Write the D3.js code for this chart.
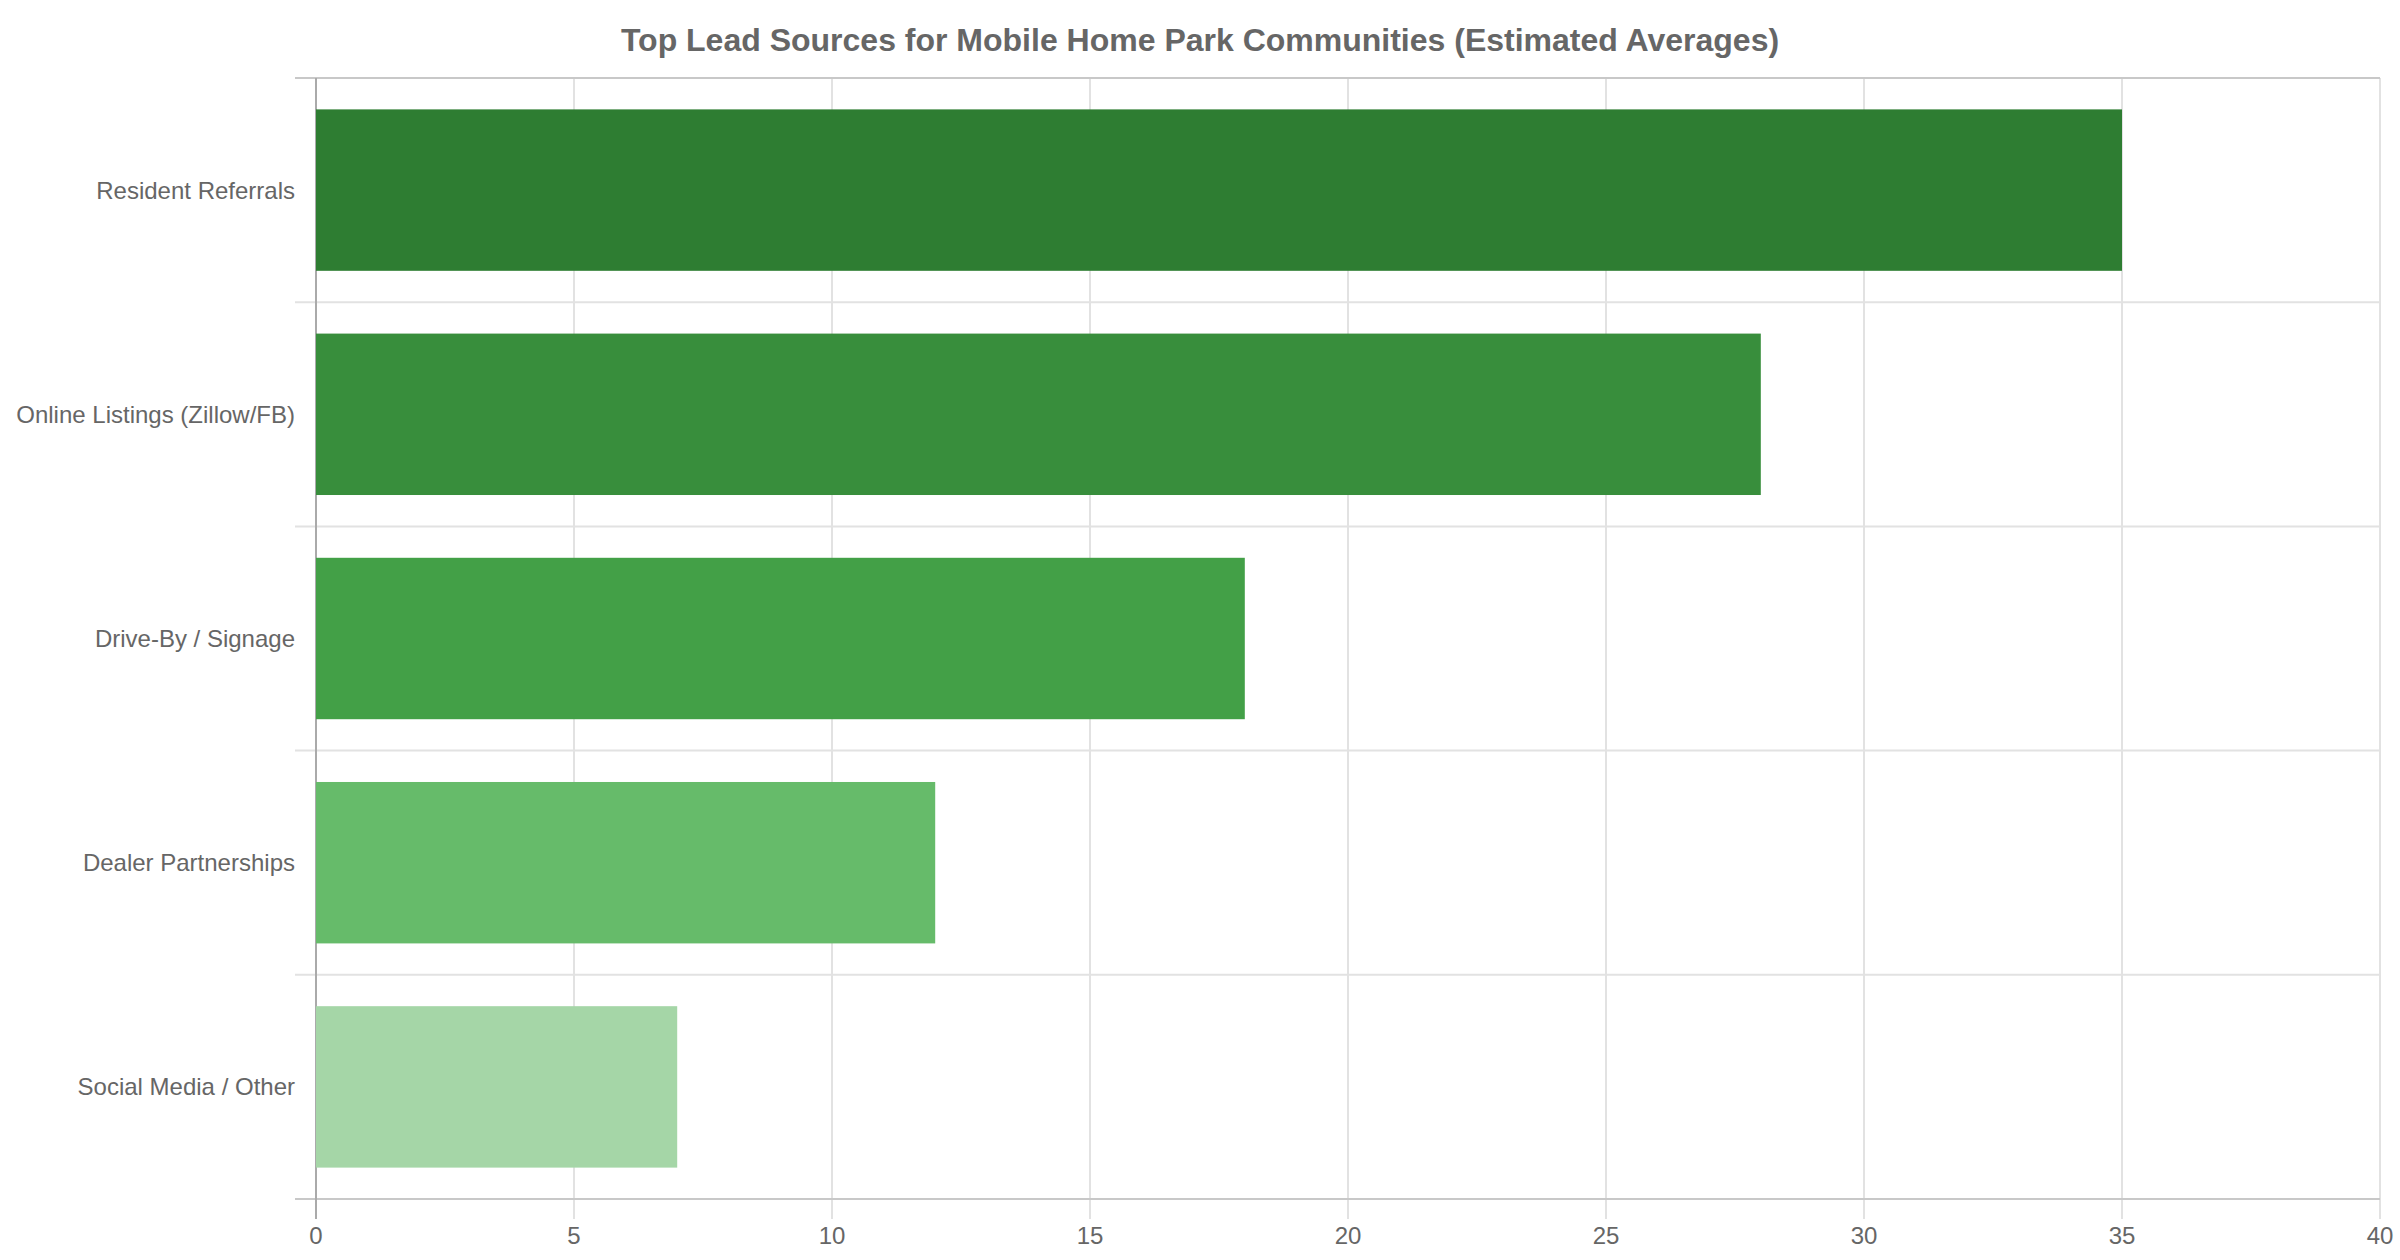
<!DOCTYPE html>
<html>
<head>
<meta charset="utf-8">
<script src="https://cdn.jsdelivr.net/npm/d3@7"></script>
<style>
  body { margin: 0; background: #fff; }
  text { font-family: "Liberation Sans", Arial, Helvetica, sans-serif; fill: #666; }
</style>
</head>
<body>
<script>
var categories = ["Resident Referrals", "Online Listings (Zillow/FB)", "Drive-By / Signage", "Dealer Partnerships", "Social Media / Other"];
var values = [35, 28, 18, 12, 7];
var barColors = ["#2e7d32", "#388e3c", "#43a047", "#66bb6a", "#a5d6a7"];
var xTicks = [0, 5, 10, 15, 20, 25, 30, 35, 40];
var title = "Top Lead Sources for Mobile Home Park Communities (Estimated Averages)";

var width = 2400, height = 1260;
var margin = {top: 78, right: 20, bottom: 61, left: 316};
var innerW = width - margin.left - margin.right,
    innerH = height - margin.top - margin.bottom;

var svg = d3.select("body").append("svg")
    .attr("width", width)
    .attr("height", height);

svg.append("text")
    .attr("x", width / 2)
    .attr("y", 40)
    .attr("text-anchor", "middle")
    .attr("dominant-baseline", "central")
    .style("font-size", "32px")
    .style("font-weight", "bold")
    .text(title);

var g = svg.append("g").attr("transform", "translate(" + margin.left + "," + margin.top + ")");

var x = d3.scaleLinear().domain([0, 40]).range([0, innerW]);
// bands for the bars, 0.72 of each slot
var y = d3.scaleBand().domain(categories).range([0, innerH]).paddingInner(0.28).paddingOuter(0.14);
var slot = d3.scaleBand().domain(categories).range([0, innerH]);

// vertical grid lines + ticks below
g.selectAll(".vgrid")
  .data(xTicks)
  .enter().append("line")
    .attr("x1", function(d) { return x(d); })
    .attr("x2", function(d) { return x(d); })
    .attr("y1", 0)
    .attr("y2", innerH + 20)
    .attr("stroke", function(d) { return d === 0 ? "#aaa" : "#e2e2e2"; })
    .attr("stroke-width", 2);

// horizontal separators between categories
var bounds = categories.map(function(c) { return slot(c); }).concat([innerH]);
g.selectAll(".hgrid")
  .data(bounds)
  .enter().append("line")
    .attr("x1", -21)
    .attr("x2", innerW)
    .attr("y1", function(d) { return d; })
    .attr("y2", function(d) { return d; })
    .attr("stroke", function(d, i) { return (i === 0 || i === bounds.length - 1) ? "#c8c8c8" : "#e2e2e2"; })
    .attr("stroke-width", 2);

// left axis drawn again on top of the separators
g.append("line")
  .attr("x1", 0).attr("x2", 0)
  .attr("y1", 0).attr("y2", innerH + 20)
  .attr("stroke", "#aaa")
  .attr("stroke-width", 2);

g.selectAll(".bar")
  .data(values)
  .enter().append("rect")
    .attr("x", x(0))
    .attr("y", function(d, i) { return y(categories[i]); })
    .attr("width", function(d) { return x(d) - x(0); })
    .attr("height", y.bandwidth())
    .attr("fill", function(d, i) { return barColors[i]; });

g.selectAll(".ylab")
  .data(categories)
  .enter().append("text")
    .attr("x", -21)
    .attr("y", function(d) { return slot(d) + slot.bandwidth() / 2; })
    .attr("text-anchor", "end")
    .attr("dominant-baseline", "central")
    .style("font-size", "24px")
    .text(function(d) { return d; });

g.selectAll(".xlab")
  .data(xTicks)
  .enter().append("text")
    .attr("x", function(d) { return x(d); })
    .attr("y", innerH + 36)
    .attr("text-anchor", "middle")
    .attr("dominant-baseline", "central")
    .style("font-size", "24px")
    .text(function(d) { return d; });
</script>
</body>
</html>
